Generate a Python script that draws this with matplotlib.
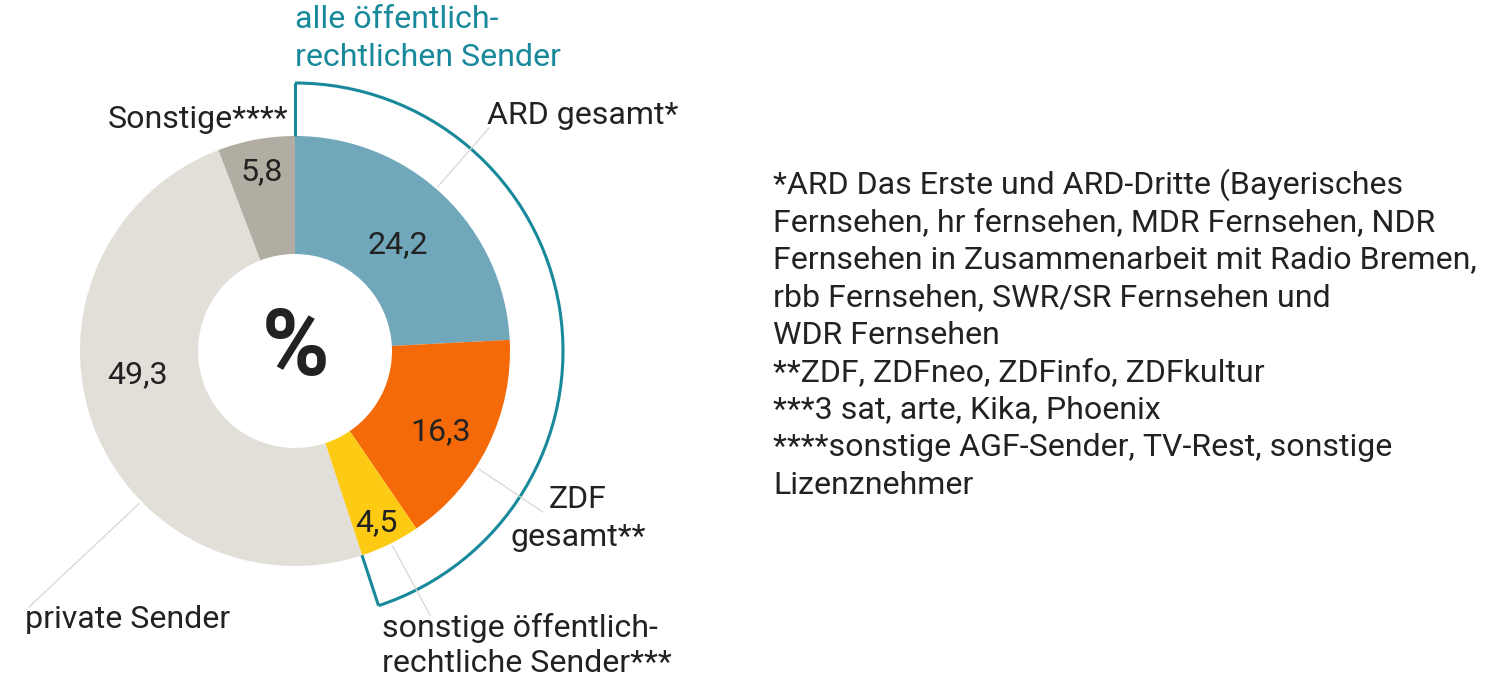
import matplotlib
matplotlib.use("Agg")
import matplotlib.pyplot as plt
from matplotlib.patches import Arc
import numpy as np

# ---- data ----
segments = ["ARD gesamt*", "ZDF gesamt**", "sonstige öffentlich-rechtliche Sender***",
            "private Sender", "Sonstige****"]
values = [24.2, 16.3, 4.5, 49.3, 5.8]
value_labels = ["24,2", "16,3", "4,5", "49,3", "5,8"]
public_count = 3  # first three segments are public broadcasters
colors = ["#70a7bb", "#f56a08", "#fdcb14", "#e2ded8", "#b2ada2"]
footnotes = [
    "*ARD Das Erste und ARD-Dritte (Bayerisches",
    "Fernsehen, hr fernsehen, MDR Fernsehen, NDR",
    "Fernsehen in Zusammenarbeit mit Radio Bremen,",
    "rbb Fernsehen, SWR/SR Fernsehen und",
    "WDR Fernsehen",
    "**ZDF, ZDFneo, ZDFinfo, ZDFkultur",
    "***3 sat, arte, Kika, Phoenix",
    "****sonstige AGF-Sender, TV-Rest, sonstige",
    "Lizenznehmer",
]
bracket_title = ["alle öffentlich-", "rechtlichen Sender"]

# ---- layout ----
W, H = 1500, 680
CX, CY = 295, 351
R_OUT, R_IN = 215, 97
R_BR = 268
TEAL = "#17899b"
TXT = "#222222"
FONT = ["Roboto", "DejaVu Sans"]

fig = plt.figure(figsize=(W / 100, H / 100), dpi=100)
ax = fig.add_axes([0, 0, 1, 1])

ax.pie(values, colors=colors, startangle=-90, counterclock=True,
       center=(CX, CY), radius=R_OUT,
       wedgeprops=dict(width=R_OUT - R_IN, linewidth=0))

ax.set_xlim(0, W)
ax.set_ylim(H, 0)
ax.set_aspect("equal")
ax.axis("off")

# fit font size so widest footnote line matches reference width
renderer = fig.canvas.get_renderer()
t = ax.text(0, 0, footnotes[2], fontsize=10, family=FONT)
wpx = t.get_window_extent(renderer).width
t.remove()
FS = 10 * 705 / wpx

# bracket around public broadcasters
total = sum(values)
pub_frac = sum(values[:public_count]) / total
end_deg = -90 + 360 * pub_frac
ax.add_patch(Arc((CX, CY), 2 * R_BR, 2 * R_BR, theta1=-90, theta2=end_deg,
                 color=TEAL, lw=2.2))
for a in (-90, end_deg):
    r = np.radians(a)
    ax.plot([CX + R_OUT * np.cos(r), CX + R_BR * np.cos(r)],
            [CY + R_OUT * np.sin(r), CY + R_BR * np.sin(r)],
            color=TEAL, lw=2.2, solid_capstyle="butt")

for i, line in enumerate(bracket_title):
    ax.text(295, 20 + 37.5 * i, line, color=TEAL, fontsize=FS, family=FONT,
            ha="left", va="center")

# value labels
val_pos = [(398, 245), (441, 432), (376, 523), (137, 375), (262, 172)]
for (x, y), lab in zip(val_pos, value_labels):
    ax.text(x, y, lab, color=TXT, fontsize=FS, family=FONT, ha="center", va="center")

ax.text(CX + 1, CY - 2, "%", color=TXT, fontsize=66, fontweight="bold",
        family=FONT, ha="center", va="center")

# leader lines: anchor angle (deg clockwise from top) on outer edge -> text end
leaders = [(41, (489, 128)), (122.7, (543, 512)), (153.4, (430, 615)), (225.6, (29, 607))]
for ang, (tx, ty) in leaders:
    r = np.radians(ang - 90)
    x0, y0 = CX + (R_OUT + 3) * np.cos(r), CY + (R_OUT + 3) * np.sin(r)
    ax.plot([x0, tx], [y0, ty], color="#d6d6d6", lw=0.9)

# category labels
ax.text(288, 120, segments[4], color=TXT, fontsize=FS, family=FONT, ha="right", va="center")
ax.text(487, 115, segments[0], color=TXT, fontsize=FS, family=FONT, ha="left", va="center")
zdf_lines = ["ZDF", "gesamt**"]
for i, line in enumerate(zdf_lines):
    ax.text(578, 500 + 38 * i, line, color=TXT, fontsize=FS, family=FONT, ha="center", va="center")
sor_lines = ["sonstige öffentlich-", "rechtliche Sender***"]
for i, line in enumerate(sor_lines):
    ax.text(382, 628 + 35 * i, line, color=TXT, fontsize=FS, family=FONT, ha="left", va="center")
ax.text(25, 620, segments[3], color=TXT, fontsize=FS, family=FONT, ha="left", va="center")

# footnotes
for i, line in enumerate(footnotes):
    ax.text(773, 185 + 37.5 * i, line, color=TXT, fontsize=FS, family=FONT,
            ha="left", va="center")

fig.savefig("out.png", dpi=100, facecolor="white")
